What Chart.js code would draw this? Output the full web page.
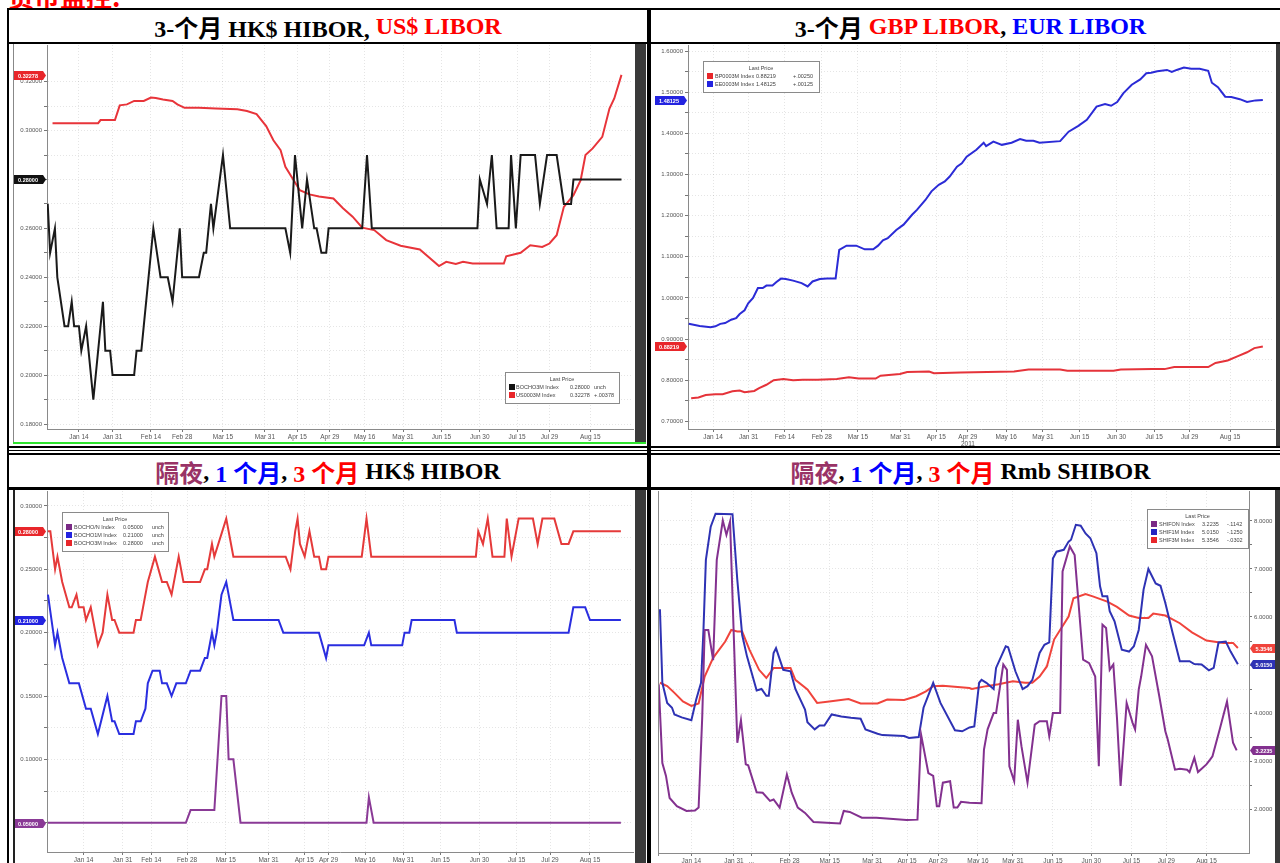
<!DOCTYPE html>
<html>
<head>
<meta charset="utf-8">
<script src="https://cdn.jsdelivr.net/npm/chart.js@4"></script>
<style>
  html, body { margin: 0; padding: 0; background: #fff; width: 1280px; height: 863px; overflow: hidden; }
  .abs { position: absolute; }
  .ln { position: absolute; background: #000; }
  #title { position: absolute; left: 8px; top: -17px; font: bold 26px/26px "Noto Sans CJK SC", sans-serif; color: #ff0000; white-space: nowrap; }
  .hd { position: absolute; display: flex; align-items: center; justify-content: center; white-space: nowrap;
        font: bold 24px "Liberation Serif", "Noto Sans CJK SC", serif; color: #000; }
  .r { color: #ff0000; } .b { color: #0000ff; } .p { color: #993366; }
  .bar { position: absolute; background: #3a3a3a; }
  .box { position: absolute; }
</style>
</head>
<body>
<div id="title">货币监控:</div>

<!-- table lines -->
<div class="ln" style="left:7px;top:8px;width:1283px;height:2px"></div>
<div class="ln" style="left:7px;top:8px;width:2px;height:855px"></div>
<div class="ln" style="left:647px;top:8px;width:4px;height:855px"></div>
<div class="ln" style="left:7px;top:42px;width:1283px;height:2px"></div>
<div class="ln" style="left:7px;top:446px;width:1283px;height:2px"></div>
<div class="ln" style="left:7px;top:450px;width:1283px;height:1px"></div>
<div class="ln" style="left:7px;top:453px;width:1283px;height:2px"></div>
<div class="ln" style="left:7px;top:487px;width:1283px;height:3px"></div>

<div class="hd" style="left:9px;top:10px;width:638px;height:32px">3-个月 HK$ HIBOR,&nbsp;<span class="r">US$ LIBOR</span></div>
<div class="hd" style="left:651px;top:10px;width:639px;height:32px">3-个月&nbsp;<span class="r">GBP LIBOR</span>,&nbsp;<span class="b">EUR LIBOR</span></div>
<div class="hd" style="left:9px;top:455px;width:638px;height:32px"><span class="p">隔夜</span>,&nbsp;<span class="b">1 个月</span>,&nbsp;<span class="r">3 个月</span>&nbsp;HK$ HIBOR</div>
<div class="hd" style="left:651px;top:455px;width:639px;height:32px"><span class="p">隔夜</span>,&nbsp;<span class="b">1 个月</span>,&nbsp;<span class="r">3 个月</span>&nbsp;Rmb SHIBOR</div>

<!-- chart frames -->
<div class="abs" style="left:13px;top:44px;width:1px;height:398px;background:#888"></div>
<div class="abs" style="left:13px;top:490px;width:2px;height:373px;background:#222"></div>
<div class="abs" style="left:13px;top:442px;width:633px;height:2px;background:#2ee62e"></div>
<div class="bar" style="left:635px;top:44px;width:11px;height:398px"></div>
<div class="bar" style="left:635px;top:490px;width:11px;height:373px"></div>
<div class="bar" style="left:1276px;top:44px;width:4px;height:402px"></div>
<div class="bar" style="left:1275px;top:490px;width:5px;height:373px"></div>

<div class="box" style="left:14px;top:44px;width:621px;height:397px"><canvas id="cTL"></canvas></div>
<div class="box" style="left:652px;top:44px;width:624px;height:402px"><canvas id="cTR"></canvas></div>
<div class="box" style="left:15px;top:490px;width:620px;height:373px"><canvas id="cBL"></canvas></div>
<div class="box" style="left:652px;top:490px;width:623px;height:373px"><canvas id="cBR"></canvas></div>

<script>
Chart.defaults.font.family = '"Liberation Sans", Arial, sans-serif';
Chart.defaults.color = '#555';

// x values are day positions on the 2011 date axis (Jan 1 = 1)
const dateLabels = ['Jan 14', 'Jan 31', 'Feb 14', 'Feb 28', 'Mar 15', 'Mar 31', 'Apr 15', 'Apr 29',
                    'May 16', 'May 31', 'Jun 15', 'Jun 30', 'Jul 15', 'Jul 29', 'Aug 15'];
const trDateLabels = dateLabels.map(l => l === 'Apr 29' ? ['Apr 29', '2011'] : l);
const brDateLabels = dateLabels.map(l => l === 'Feb 14' ? '...' : l);
const tlTickX = [14, 28, 44, 57, 74, 91.5, 105, 118.5, 133, 149, 165, 181, 196.5, 210, 227];
const trTickX = [14, 28.7, 43.6, 58.8, 73.7, 91.2, 106, 119, 134.8, 149.9, 165, 180.2, 195.7, 210.4, 227];
const blTickX = [14, 30.4, 42.5, 57.5, 73.8, 91.8, 106.8, 117, 132.4, 148.5, 164, 180.5, 196.2, 210.2, 227];
const brTickX = [14, 31.6, 38.8, 54.6, 71.2, 88.8, 103.2, 116, 132.5, 147, 163.5, 179.4, 196, 210.4, 227];

const tlYTicks = [0.18, 0.20, 0.22, 0.24, 0.26, 0.28, 0.30, 0.32];
const trYTicks = [0.7, 0.8, 0.9, 1.0, 1.1, 1.2, 1.3, 1.4, 1.5, 1.6];
const blYTicks = [0.05, 0.10, 0.15, 0.20, 0.25, 0.30];
const brYTicks = [2, 3, 4, 5, 6, 7, 8];

// top left: BOCHO3M (HK$ 3M HIBOR) and US0003M (US$ 3M LIBOR)
const hibor3mTop = [[1,0.27],[2,0.25],[4,0.26],[5,0.24],[8,0.22],[9.5,0.22],[11,0.23],[12,0.22],[14,0.22],[15,0.21],[17,0.22],[20,0.19],[24,0.23],[25,0.21],[27,0.21],[28,0.20],[37,0.20],[38,0.21],[40,0.21],[41,0.22],[43,0.24],[45,0.26],[48,0.24],[51,0.24],[53,0.23],[56,0.26],[57,0.24],[64,0.24],[66,0.25],[67,0.25],[69,0.27],[70,0.26],[74,0.29],[77,0.26],[100,0.26],[102,0.25],[104,0.29],[107,0.26],[109,0.28],[112,0.26],[113,0.26],[115,0.25],[117,0.25],[118,0.26],[132,0.26],[134,0.29],[136,0.26],[180,0.26],[181,0.28],[184,0.27],[186,0.29],[188,0.26],[193,0.26],[194,0.29],[196,0.26],[198,0.29],[204,0.29],[206,0.27],[209,0.29],[213,0.29],[216,0.27],[219,0.27],[220,0.28],[240,0.28]];
const usLibor3m = [[3,0.303],[6,0.303],[22,0.303],[23,0.3043],[29,0.3043],[31,0.3103],[34,0.3107],[37,0.3121],[41,0.3121],[44,0.3135],[46,0.3133],[49,0.3127],[53,0.3121],[55,0.3107],[58,0.3093],[64,0.3093],[71,0.309],[80,0.3087],[84,0.308],[88,0.3067],[92,0.3018],[95,0.296],[98,0.292],[100,0.2852],[103,0.2804],[106,0.2756],[110,0.2739],[114,0.273],[120,0.2722],[124,0.2682],[128,0.2648],[132,0.2603],[137,0.2593],[142,0.2552],[148,0.2529],[156,0.2514],[164,0.2446],[167,0.2463],[171,0.2454],[174,0.2463],[178,0.2456],[191,0.2456],[192,0.2486],[198,0.25],[202,0.2531],[207,0.2524],[210,0.2538],[213,0.2572],[216,0.2688],[220,0.2736],[223,0.2797],[225,0.29],[228,0.2927],[232,0.2974],[235,0.309],[237,0.3131],[240,0.32278]];

// top right: BP0003M (GBP) and EE0003M (EUR)
const gbpLibor3m = [[5,0.756],[8,0.758],[11,0.764],[15,0.766],[18,0.766],[22,0.773],[25,0.775],[27,0.771],[31,0.774],[33,0.781],[36,0.789],[39,0.800],[43,0.803],[47,0.800],[51,0.801],[57,0.801],[65,0.803],[70,0.807],[74,0.804],[81,0.804],[83,0.811],[91,0.815],[94,0.820],[103,0.821],[105,0.817],[116,0.819],[138,0.821],[144,0.826],[157,0.826],[160,0.823],[179,0.823],[182,0.826],[195,0.827],[200,0.827],[204,0.832],[218,0.832],[221,0.842],[226,0.848],[230,0.858],[234,0.868],[237,0.878],[240.5,0.88219]];
const eurLibor3m = [[4,0.937],[8.5,0.932],[13,0.929],[15,0.931],[17,0.937],[19,0.939],[21.5,0.947],[23.5,0.951],[25,0.961],[27,0.970],[28.5,0.987],[30.5,1.000],[32.5,1.024],[34.5,1.024],[36,1.030],[38.5,1.030],[40,1.038],[42,1.047],[44,1.046],[47,1.042],[50.5,1.036],[53,1.028],[55,1.040],[58,1.046],[61,1.047],[64.5,1.047],[66,1.117],[69,1.127],[73,1.127],[76.5,1.118],[80,1.118],[82,1.127],[84,1.140],[86,1.145],[89.5,1.165],[92.5,1.178],[96,1.202],[98,1.214],[101.5,1.238],[104,1.259],[107,1.275],[109.5,1.283],[111.5,1.295],[114.5,1.319],[116.5,1.327],[118.5,1.343],[122.5,1.360],[125.5,1.377],[126.5,1.369],[129.5,1.380],[133,1.372],[137,1.377],[140.5,1.386],[143,1.382],[146,1.382],[148.5,1.377],[157,1.381],[160.5,1.404],[164.5,1.418],[168,1.433],[172,1.465],[175.5,1.471],[178,1.467],[180.5,1.476],[183,1.497],[186.5,1.518],[190,1.531],[192.5,1.546],[194.5,1.547],[197,1.551],[201,1.554],[203,1.549],[205,1.554],[208,1.560],[211,1.557],[214.5,1.557],[218,1.552],[219.5,1.523],[222,1.512],[225,1.489],[227.5,1.488],[231,1.483],[234,1.476],[237.5,1.480],[240.5,1.48125]];

// bottom left: BOCHO/N, BOCHO1M, BOCHO3M
const hiborON = [[-1,0.05],[57,0.05],[59,0.06],[69,0.06],[72,0.15],[74,0.15],[75,0.10],[77,0.10],[80,0.05],[133,0.05],[134,0.07],[136,0.05],[240,0.05]];
const hibor1m = [[-1,0.23],[2,0.19],[3,0.20],[5,0.18],[8,0.16],[12,0.16],[15,0.14],[17,0.14],[20,0.12],[24,0.15],[26,0.13],[27,0.13],[29,0.12],[35,0.12],[36,0.13],[38,0.13],[40,0.14],[41,0.16],[43,0.17],[46,0.17],[47,0.16],[49,0.16],[51,0.15],[53,0.16],[57,0.16],[59,0.17],[63,0.17],[65,0.18],[66,0.18],[68,0.20],[69,0.19],[70,0.20],[72,0.23],[74,0.24],[76,0.22],[77,0.21],[96,0.21],[98,0.20],[113,0.20],[116,0.18],[117,0.19],[132,0.19],[134,0.20],[135,0.19],[148,0.19],[149,0.20],[151,0.20],[152,0.21],[170,0.21],[171,0.20],[218,0.20],[220,0.22],[225,0.22],[227,0.21],[240,0.21]];
const hibor3mBottom = [[-1,0.28],[0,0.28],[2,0.25],[3,0.26],[5,0.24],[8,0.22],[9,0.22],[11,0.23],[12,0.22],[14,0.22],[15,0.21],[17,0.22],[20,0.19],[22,0.20],[24,0.23],[26,0.21],[27,0.21],[29,0.20],[35,0.20],[36,0.21],[38,0.21],[39,0.22],[41,0.24],[44,0.26],[47,0.24],[49,0.24],[51,0.23],[54,0.26],[56,0.24],[63,0.24],[65,0.25],[66,0.25],[68,0.27],[69,0.26],[74,0.29],[76,0.27],[77,0.26],[99,0.26],[101,0.25],[103,0.28],[104,0.29],[105,0.27],[107,0.26],[109,0.28],[110,0.27],[111,0.26],[113,0.26],[114,0.25],[116,0.25],[117,0.26],[131,0.26],[133,0.29],[135,0.26],[179,0.26],[180,0.28],[182,0.27],[184,0.29],[186,0.26],[191,0.26],[192,0.29],[194,0.26],[197,0.29],[203,0.29],[205,0.27],[207,0.29],[212,0.29],[215,0.27],[218,0.27],[220,0.28],[240,0.28]];

// bottom right: SHIFON, SHIF1M, SHIF3M
const shiborON = [[0.5,4.6],[2,2.96],[3.5,2.69],[5,2.23],[8,2.06],[12,1.96],[15.5,1.97],[17,2.03],[18.5,3.93],[19.5,5.73],[21,5.73],[23,5.10],[24.5,7.19],[27,8.01],[28.5,7.71],[30,7.99],[31.5,5.67],[33,3.38],[34.5,3.85],[36.5,2.93],[37.5,2.91],[41,2.35],[43.5,2.34],[46.5,2.17],[48,2.20],[50.5,2.03],[53.5,2.72],[55.5,2.34],[58,2.03],[61,1.92],[64.5,1.73],[75.5,1.70],[77,1.96],[79.5,1.94],[84.5,1.82],[90.5,1.82],[103,1.77],[107.5,1.78],[109,3.55],[112,2.75],[114,2.69],[115.5,2.06],[116.5,2.06],[118,2.55],[121,2.58],[122.5,2.03],[124,2.03],[125.5,2.15],[129,2.13],[134,2.12],[135,3.24],[136.5,3.66],[139,4.00],[140,4.00],[143,5.01],[144.5,4.90],[145.5,2.89],[147.5,2.58],[149,3.86],[150.5,3.31],[153,2.55],[156,3.76],[158,3.83],[161,3.83],[162,3.52],[163.5,4.00],[166.5,4.00],[167.5,6.95],[170.5,7.47],[172.5,7.29],[176,5.11],[178.5,5.04],[181,4.76],[182.5,2.89],[184,5.84],[185.5,5.77],[187,4.90],[188.5,5.01],[190,3.90],[191.5,2.48],[194,4.21],[196.5,3.79],[197.5,3.66],[199,4.49],[200,4.76],[202,5.42],[204.5,5.18],[207.5,4.35],[210,3.62],[211,3.45],[214,2.82],[216,2.84],[219,2.82],[220,2.77],[222,3.07],[223.5,2.77],[227,2.93],[228.5,3.03],[229.5,3.10],[232.5,3.66],[235.5,4.24],[238,3.38],[239.5,3.2235]];
const shibor1m = [[1,6.16],[2,4.63],[4,4.21],[6,4.11],[7,3.97],[10,3.91],[14,3.85],[16,4.28],[18,4.63],[19,5.73],[20,7.19],[22,7.88],[24,8.15],[31,8.14],[33,6.77],[35,5.63],[37,5.18],[41,4.47],[43,4.50],[45,4.36],[46,4.36],[48,5.25],[49,5.35],[52,4.90],[55,4.87],[57,4.50],[61,4.07],[62,3.81],[65,3.66],[67,3.74],[69,3.74],[72,3.97],[76,3.93],[80,3.90],[84,3.88],[86,3.66],[91,3.57],[93,3.54],[102,3.52],[104,3.48],[108,3.50],[110,4.11],[114,4.63],[117,4.21],[123,3.64],[126,3.62],[129,3.70],[131,3.72],[133,4.63],[134,4.69],[136,4.63],[139,4.50],[140,4.94],[144,5.39],[145,5.37],[148,4.87],[151,4.50],[153,4.56],[155,4.69],[158,5.25],[160,5.42],[162,5.47],[163.5,7.22],[165,7.36],[168,7.40],[170,7.57],[171,7.61],[173,7.92],[175,7.90],[177,7.74],[179,7.64],[181.5,7.33],[183,6.64],[184,6.43],[186,6.43],[187,6.12],[189,5.91],[192,5.32],[195,5.28],[197,5.39],[199,5.73],[201,6.57],[203,7.00],[206,6.70],[208,6.65],[210,6.29],[213,5.67],[216,5.08],[220,5.08],[222,5.02],[225,5.01],[228,4.89],[230,4.94],[232,5.47],[235,5.49],[237,5.28],[240,5.015]];
const shibor3m = [[1,4.63],[4,4.56],[7,4.42],[10.5,4.24],[14,4.15],[17,4.20],[19.5,4.76],[23,5.15],[28,5.49],[30.5,5.73],[33,5.70],[35,5.70],[38,5.32],[42,4.90],[45,4.73],[48,4.94],[55,4.94],[57,4.69],[62,4.49],[66,4.21],[71,4.24],[79,4.29],[84,4.20],[91,4.20],[95,4.28],[102,4.27],[107,4.35],[111,4.45],[114,4.56],[118,4.57],[129,4.52],[130,4.50],[136,4.56],[141,4.60],[147,4.66],[152,4.63],[155,4.63],[158,4.76],[161,4.97],[164,5.53],[167,5.77],[170,6.01],[172,6.39],[177,6.48],[180,6.43],[186,6.32],[190,6.21],[195,6.03],[199,5.98],[203,5.98],[205,6.07],[210,6.03],[216,5.87],[221,5.68],[227,5.51],[234,5.46],[238,5.46],[240,5.3546]];

function halfSteps(ticks) {
  const out = [];
  for (let i = 0; i < ticks.length - 1; i++) out.push((ticks[i] + ticks[i + 1]) / 2);
  return out;
}

function tagPlugin(tags, side) {
  return {
    id: 'lastTags',
    afterDraw(chart) {
      const c = chart.ctx, a = chart.chartArea, ys = chart.scales.y;
      c.save();
      tags.forEach(t => {
        const d = chart.data.datasets[t.ds].data;
        const py = Math.round(ys.getPixelForValue(d[d.length - 1].y)) + 0.5;
        c.beginPath();
        if (side === 'left') {
          const x0 = a.left - 33, x1 = a.left - 4;
          c.moveTo(x0, py - 4.5); c.lineTo(x1, py - 4.5); c.lineTo(a.left - 1, py);
          c.lineTo(x1, py + 4.5); c.lineTo(x0, py + 4.5);
        } else {
          const x0 = a.right + 4, x1 = a.right + 27;
          c.moveTo(a.right + 1, py); c.lineTo(x0, py - 4.5); c.lineTo(x1, py - 4.5);
          c.lineTo(x1, py + 4.5); c.lineTo(x0, py + 4.5);
        }
        c.closePath();
        c.fillStyle = t.color; c.fill();
        c.fillStyle = '#fff';
        c.font = 'bold 5.5px "Liberation Sans", sans-serif';
        c.textAlign = 'center'; c.textBaseline = 'middle';
        const cx = side === 'left' ? a.left - 19 : a.right + 15;
        c.fillText(t.text, cx, py + 0.5);
      });
      c.restore();
    }
  };
}

function boxPlugin(box) {
  return {
    id: 'priceBox',
    afterDraw(chart) {
      const c = chart.ctx;
      const h = 15 + 8 * box.rows.length;
      c.save();
      c.fillStyle = '#fff'; c.fillRect(box.x, box.y, box.w, h);
      c.strokeStyle = '#8a8a8a'; c.lineWidth = 1;
      c.strokeRect(box.x + 0.5, box.y + 0.5, box.w, h);
      c.font = '5.5px "Liberation Sans", sans-serif';
      c.textBaseline = 'middle';
      c.fillStyle = '#444'; c.textAlign = 'center';
      c.fillText('Last Price', box.x + box.w / 2, box.y + 7);
      c.textAlign = 'left';
      box.rows.forEach((r, i) => {
        const ry = box.y + 15 + i * 8;
        c.fillStyle = r[0]; c.fillRect(box.x + 4, ry - 3, 6, 6);
        c.fillStyle = '#444';
        c.fillText(r[1], box.x + box.cols[0], ry);
        c.fillText(r[2], box.x + box.cols[1], ry);
        c.fillText(r[3], box.x + box.cols[2], ry);
      });
      c.restore();
    }
  };
}

const leftEdge = {
  id: 'leftEdge',
  afterDraw(chart) {
    const c = chart.ctx, a = chart.chartArea;
    c.save(); c.strokeStyle = '#8a8a8a'; c.lineWidth = 1;
    c.beginPath(); c.moveTo(Math.round(a.left) + 0.5, a.top); c.lineTo(Math.round(a.left) + 0.5, a.bottom + 3); c.stroke();
    c.restore();
  }
};

function lineChart(id, o) {
  const majors = o.yTicks;
  const all = majors.concat(halfSteps(majors)).sort((p, q) => p - q);
  const gridStyle = { color: 'rgba(0,0,0,0.10)', tickLength: 3, tickColor: '#777' };
  const borderStyle = { color: '#8a8a8a', dash: [1, 2] };
  const noOverflow = s => { s.paddingTop = 0; s.paddingBottom = 0; s.paddingLeft = 0; s.paddingRight = 0; };
  return new Chart(document.getElementById(id), {
    type: 'line',
    data: {
      datasets: o.series.map(s => ({
        data: s.data.map(p => ({ x: p[0], y: p[1] })),
        borderColor: s.color, borderWidth: 2, pointRadius: 0, tension: 0, fill: false
      }))
    },
    options: {
      responsive: true, maintainAspectRatio: false, animation: false,
      layout: { padding: o.pad },
      plugins: { legend: { display: false }, tooltip: { enabled: false } },
      scales: {
        x: {
          type: 'linear', min: o.xMin, max: o.xMax,
          afterBuildTicks: s => { s.ticks = o.xTicks.map(v => ({ value: v })); },
          afterFit: s => { s.height = o.xHeight; noOverflow(s); },
          ticks: { autoSkip: false, maxRotation: 0, padding: 1, font: { size: 6.5 }, color: '#555',
                   callback: (v, i) => o.xLabels[i] },
          grid: gridStyle, border: borderStyle
        },
        y: {
          position: o.yPos, min: o.yMin, max: o.yMax,
          afterBuildTicks: s => { s.ticks = all.map(v => ({ value: v })); },
          afterFit: s => { s.width = o.yWidth; noOverflow(s); },
          ticks: { autoSkip: false, padding: 2, font: { size: 6 }, color: '#555',
                   callback: v => majors.some(m => Math.abs(m - v) < 1e-9) ? v.toFixed(o.yDigits) : '' },
          grid: gridStyle, border: borderStyle
        }
      }
    },
    plugins: o.plugins
  });
}

lineChart('cTL', {
  series: [{ data: hibor3mTop, color: '#1a1a1a' }, { data: usLibor3m, color: '#e8343a' }],
  xMin: 0.7, xMax: 244.8, xTicks: tlTickX, xLabels: dateLabels, xHeight: 12,
  yMin: 0.17796, yMax: 0.33498, yTicks: tlYTicks, yDigits: 5, yPos: 'left', yWidth: 33,
  pad: { top: 1, right: 2, left: 0, bottom: 0 },
  plugins: [
    tagPlugin([{ ds: 1, color: '#e8262a', text: '0.32278' }, { ds: 0, color: '#111', text: '0.28000' }], 'left'),
    boxPlugin({ x: 491, y: 328, w: 114, cols: [11, 65, 89], rows: [
      ['#111', 'BOCHO3M Index', '0.28000', 'unch'],
      ['#e8262a', 'US0003M Index', '0.32278', '+.00378']] })
  ]
});

lineChart('cTR', {
  series: [{ data: gbpLibor3m, color: '#e5333a' }, { data: eurLibor3m, color: '#2b2bd6' }],
  xMin: 3.7, xMax: 245.1, xTicks: trTickX, xLabels: trDateLabels, xHeight: 17,
  yMin: 0.6815, yMax: 1.6146, yTicks: trYTicks, yDigits: 5, yPos: 'left', yWidth: 36,
  pad: { top: 1, right: 2, left: 0, bottom: 0 },
  plugins: [
    tagPlugin([{ ds: 1, color: '#2323e0', text: '1.48125' }, { ds: 0, color: '#e8262a', text: '0.88219' }], 'left'),
    boxPlugin({ x: 51, y: 17, w: 116, cols: [12, 53, 90], rows: [
      ['#e8262a', 'BP0003M Index', '0.88219', '+.00250'],
      ['#2323e0', 'EE0003M Index', '1.48125', '+.00125']] })
  ]
});

lineChart('cBL', {
  series: [{ data: hiborON, color: '#8a3a96' }, { data: hibor1m, color: '#2a2ee0' }, { data: hibor3mBottom, color: '#e53a3a' }],
  xMin: -1.4, xMax: 245.1, xTicks: blTickX, xLabels: trDateLabels, xHeight: 11,
  yMin: 0.0269, yMax: 0.3118, yTicks: blYTicks, yDigits: 5, yPos: 'left', yWidth: 32,
  pad: { top: 1, right: 2, left: 0, bottom: 0 },
  plugins: [
    tagPlugin([{ ds: 2, color: '#e8262a', text: '0.28000' }, { ds: 1, color: '#2323e0', text: '0.21000' },
               { ds: 0, color: '#8a3a96', text: '0.05000' }], 'left'),
    boxPlugin({ x: 47, y: 22, w: 106, cols: [12, 61, 90], rows: [
      ['#7a2a86', 'BOCHO/N Index', '0.05000', 'unch'],
      ['#2323e0', 'BOCHO1M Index', '0.21000', 'unch'],
      ['#e8262a', 'BOCHO3M Index', '0.28000', 'unch']] })
  ]
});

lineChart('cBR', {
  series: [{ data: shiborON, color: '#83318f' }, { data: shibor1m, color: '#2e32b4' }, { data: shibor3m, color: '#f0443c' }],
  xMin: 0.2, xMax: 244.6, xTicks: brTickX, xLabels: brDateLabels, xHeight: 10,
  yMin: 1.085, yMax: 8.624, yTicks: brYTicks, yDigits: 4, yPos: 'right', yWidth: 26,
  pad: { top: 1, right: 0, left: 6, bottom: 0 },
  plugins: [
    leftEdge,
    tagPlugin([{ ds: 2, color: '#f0443c', text: '5.3546' }, { ds: 1, color: '#2e32b4', text: '5.0150' },
               { ds: 0, color: '#83318f', text: '3.2235' }], 'right'),
    boxPlugin({ x: 495, y: 19, w: 101, cols: [12, 55, 80], rows: [
      ['#7a2a86', 'SHIFON Index', '3.2235', '-.1142'],
      ['#2323c0', 'SHIF1M Index', '5.0150', '-.1250'],
      ['#e8262a', 'SHIF3M Index', '5.3546', '-.0302']] })
  ]
});
</script>
</body>
</html>
